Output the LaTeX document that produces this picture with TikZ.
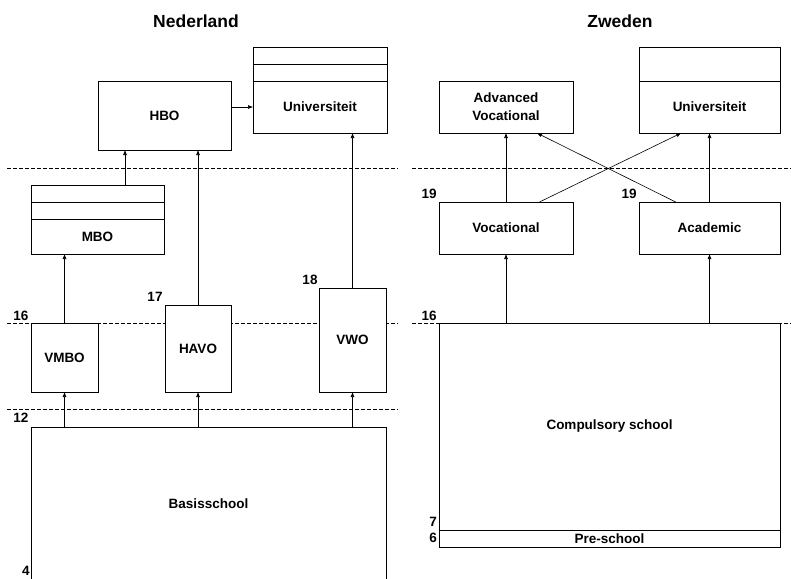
\documentclass[tikz,border=0pt]{standalone}
\usepackage{fontspec}
\setmainfont{Liberation Sans}
\usetikzlibrary{calc,arrows.meta}

\begin{document}
\begin{tikzpicture}[x=1pt, y=-1pt,
		box/.style={draw, fill=white, line width=0.9pt, inner sep=0pt, outer sep=0pt, align=center, font=\bfseries\fontsize{13.5}{18}\selectfont},
		age/.style={inner sep=0pt, font=\bfseries\fontsize{13.5}{16}\selectfont},
		title/.style={inner sep=0pt, font=\bfseries\fontsize{17.5}{20}\selectfont},
		level/.style={line width=0.8pt, dash pattern=on 4pt off 2pt},
		arr/.style={line width=0.6pt, -{Latex[length=5pt,width=4pt]}}]
		%%%%% START %%%%%
		
		\useasboundingbox (0,0) rectangle (791,578);
		
		\node[title] (nltitle) at (196,21) {Nederland};
		\node[title] (setitle) at (620,21) {Zweden};
		
		% age levels
		\draw[level] (7,168) -- (398,168);
		\draw[level] (412,168) -- (791,168);
		\draw[level] (7,323) -- (398,323);
		\draw[level] (412,323) -- (791,323);
		\draw[level] (7,409) -- (398,409);
		
		%%% Nederland
		\node[box, minimum width=133, minimum height=69] (hbo) at (164.5,115.5) {HBO};
		\node[box, minimum width=134, minimum height=52] (nluni) at (320,107) {Universiteit};
		\node[box, minimum width=134, minimum height=17, anchor=south] (nlunib) at (nluni.north) {};
		\node[box, minimum width=134, minimum height=17, anchor=south] (nlunia) at (nlunib.north) {};
		
		\node[box, minimum width=133, minimum height=35] (mbo) at (97.5,236.5) {MBO};
		\node[box, minimum width=133, minimum height=17, anchor=south] (mbob) at (mbo.north) {};
		\node[box, minimum width=133, minimum height=17, anchor=south] (mboa) at (mbob.north) {};
		
		\node[box, minimum width=67, minimum height=69] (vmbo) at (64.5,357.5) {VMBO};
		\node[box, minimum width=66, minimum height=87] (havo) at (198,348.5) {HAVO};
		\node[box, minimum width=67, minimum height=104] (vwo) at (352.5,340) {VWO};
		\node[box, minimum width=355, minimum height=154] (basis) at (208.5,504) {Basisschool};
		
		\node[age] (a16nl) at (21,316) {16};
		\node[age] (a17) at (155,297) {17};
		\node[age] (a18) at (310,280) {18};
		\node[age] (a12) at (21,418) {12};
		\node[age] (a4) at (26,571) {4};
		
		\coordinate (hbofoot) at ($(hbo.south west)+(27,0)$);
		\draw[arr] (hbo.east |- nluni.west) -- (nluni.west);
		\draw[arr] (hbofoot |- mboa.north) -- (hbofoot);
		\draw[arr] (havo.north) -- (havo.north |- hbo.south);
		\draw[arr] (vwo.north) -- (vwo.north |- nluni.south);
		\draw[arr] (vmbo.north) -- (vmbo.north |- mbo.south);
		\draw[arr] (vmbo.south |- basis.north) -- (vmbo.south);
		\draw[arr] (havo.south |- basis.north) -- (havo.south);
		\draw[arr] (vwo.south |- basis.north) -- (vwo.south);
		
		%%% Zweden
		\node[box, minimum width=134, minimum height=52] (advoc) at (506,107) {Advanced\\Vocational};
		\node[box, minimum width=141, minimum height=52] (seuni) at (709.5,107) {Universiteit};
		\node[box, minimum width=141, minimum height=34, anchor=south] (seunia) at (seuni.north) {};
		
		\node[box, minimum width=134, minimum height=52] (voc) at (506,228) {Vocational};
		\node[box, minimum width=141, minimum height=52] (acad) at (709.5,228) {Academic};
		
		\node[box, minimum width=341, minimum height=207] (comp) at (609.5,426.5) {Compulsory school};
		\node[box, minimum width=341, minimum height=17, anchor=north] (pre) at (comp.south) {Pre-school};
		
		\node[age] (a19v) at (429,194) {19};
		\node[age] (a19a) at (629,194) {19};
		\node[age] (a16se) at (429,316) {16};
		\node[age] (a7) at (433,522) {7};
		\node[age] (a6) at (433,538) {6};
		
		\draw[arr] (voc.north) -- (advoc.south);
		\draw[arr] (acad.north -| seuni.south) -- (seuni.south);
		\draw[arr] (voc.south |- comp.north) -- (voc.south);
		\draw[arr] (acad.south |- comp.north) -- (acad.south);
		\draw[arr] ($(voc.north west)!0.75!(voc.north east)$) -- ($(seuni.south west)!0.3!(seuni.south east)$);
		\draw[arr] ($(acad.north west)!0.26!(acad.north east)$) -- ($(advoc.south west)!0.73!(advoc.south east)$);
		
		%%%%% END %%%%%
	\end{tikzpicture}
\end{document}
